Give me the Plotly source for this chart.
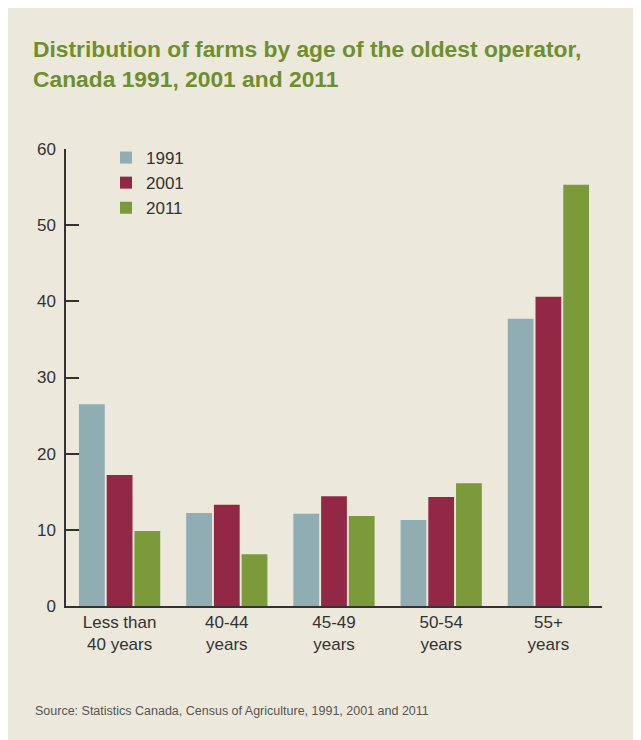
import plotly.graph_objects as go

categories = ["Less than<br>40 years", "40-44<br>years", "45-49<br>years", "50-54<br>years", "55+<br>years"]
years = ["1991", "2001", "2011"]
values_1991 = [26.5, 12.2, 12.1, 11.3, 37.7]
values_2001 = [17.2, 13.3, 14.4, 14.3, 40.6]
values_2011 = [9.85, 6.8, 11.8, 16.1, 55.3]
colors = ["#8FADB2", "#922845", "#7B9B3A"]
y_ticks = [0, 10, 20, 30, 40, 50, 60]

OFF = 8  # page body margin
W, H = 641 - OFF, 740 - OFF
ML, MR, MT, MB = 66 - OFF, 39, 149 - OFF, 134
PW = W - ML - MR
PH = H - MT - MB

def px_x(px):
    return (px - OFF - ML) / PW

def px_y(py):
    return (H - MB - (py - OFF)) / PH

BG = "#ECE9DC"

fig = go.Figure()
for name, vals, col in zip(years, [values_1991, values_2001, values_2011], colors):
    fig.add_trace(go.Bar(x=categories, y=vals, name=name, marker=dict(color=col, line=dict(width=0)),
                         legendgroup=name))

fig.update_layout(
    width=W, height=H,
    margin=dict(l=ML, r=MR, t=MT, b=MB, pad=0),
    paper_bgcolor=BG,
    plot_bgcolor="rgba(0,0,0,0)",
    barmode="group",
    bargap=0.224,
    bargroupgap=0.07,
    font=dict(family="Liberation Sans, Arial, sans-serif", size=17, color="#333333"),
    title=dict(
        text="<b>Distribution of farms by age of the oldest operator,<br>Canada 1991, 2001 and 2011</b>",
        x=(33 - OFF) / W, xanchor="left", xref="container",
        y=1 - (57 - OFF) / H, yanchor="top", yref="container",
        font=dict(family="Liberation Sans Narrow, Arial Narrow, sans-serif", size=22.8, color="#6E8F2D"),
    ),
    legend=dict(
        x=px_x(106), xanchor="left", y=px_y(140), yanchor="top",
        bgcolor="rgba(0,0,0,0)",
        font=dict(size=17, color="#333333"),
        tracegroupgap=0,
        traceorder="grouped",
        itemwidth=30,
    ),
    xaxis=dict(
        showline=True, linecolor="#333333", linewidth=1.5,
        ticks="", showgrid=False, zeroline=False,
        tickfont=dict(size=17, color="#333333"),
        range=[-0.5, 4.5],
    ),
    yaxis=dict(
        range=[0, 60], tickvals=y_ticks, ticktext=[str(t) for t in y_ticks],
        showline=True, linecolor="#333333", linewidth=1.5,
        ticks="inside", ticklen=13, tickwidth=1.5, tickcolor="#333333",
        showgrid=False, zeroline=False,
        tickfont=dict(size=17, color="#333333"),
        ticklabelstandoff=5,
    ),
    annotations=[dict(
        text="Source: Statistics Canada, Census of Agriculture, 1991, 2001 and 2011",
        xref="paper", yref="paper", x=px_x(33), y=px_y(711), xanchor="left", yanchor="middle",
        showarrow=False, font=dict(family="Liberation Sans Narrow, Arial Narrow, sans-serif", size=12.5, color="#555555"),
    )],
)

fig.write_html("out.html")
